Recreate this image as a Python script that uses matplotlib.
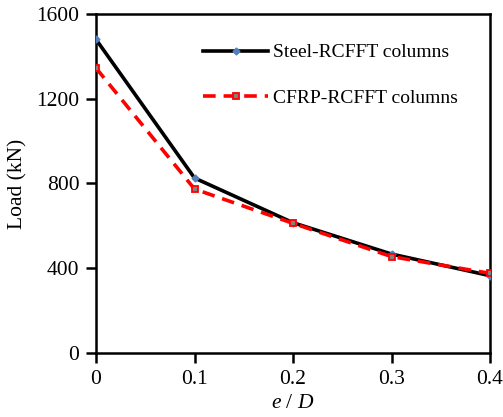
import numpy as np
import matplotlib.pyplot as plt

plt.rcParams['font.family'] = ['Liberation Serif', 'DejaVu Serif']
plt.rcParams['mathtext.fontset'] = 'custom'
plt.rcParams['mathtext.it'] = 'Liberation Serif:italic'
plt.rcParams['mathtext.rm'] = 'Liberation Serif'

# e/D eccentricity ratios
ecc = [0, 0.1, 0.2, 0.3, 0.4]
# ultimate load (kN)
steel_load = [1480, 826, 615, 467, 365]
cfrp_load = [1345, 774, 612, 455, 376]

fig = plt.figure(figsize=(5.03, 4.17), dpi=100)
ax = fig.add_axes([96/503, 1 - 353/417, (490-96)/503, (353-14)/417])

ax.plot(ecc, steel_load, color='black', lw=2.6, marker='D', ms=3.5,
        mfc='#4F81BD', mec='#4F81BD', label='Steel-RCFFT columns', zorder=3)
ax.plot(ecc, cfrp_load, color='red', lw=2.6, ls=(0, (3.5, 2.2)), marker='s', ms=4.5,
        mfc='#808080', mec='red', mew=1.3, label='CFRP-RCFFT columns', zorder=4)

ax.set_xlim(0, 0.4)
ax.set_ylim(0, 1600)
ax.set_xticks([0, 0.1, 0.2, 0.3, 0.4])
ax.set_xticklabels(['0', '0.1', '0.2', '0.3', '0.4'])
ax.set_yticks([0, 400, 800, 1200, 1600])
ax.tick_params(direction='out', length=7, width=1.8, labelsize=15.5, pad=5)
for s in ax.spines.values():
    s.set_linewidth(1.8)

ax.set_xlabel('$e$ / $D$', fontsize=15.5, labelpad=4)
ax.set_ylabel('Load (kN)', fontsize=15.5, labelpad=6)

ax.legend(loc='upper left', bbox_to_anchor=(0.253, 0.935), frameon=False, fontsize=14,
          handlelength=3.3, handletextpad=0.3, labelspacing=1.45, borderaxespad=0.0)

fig.savefig('out.png', dpi=100)
